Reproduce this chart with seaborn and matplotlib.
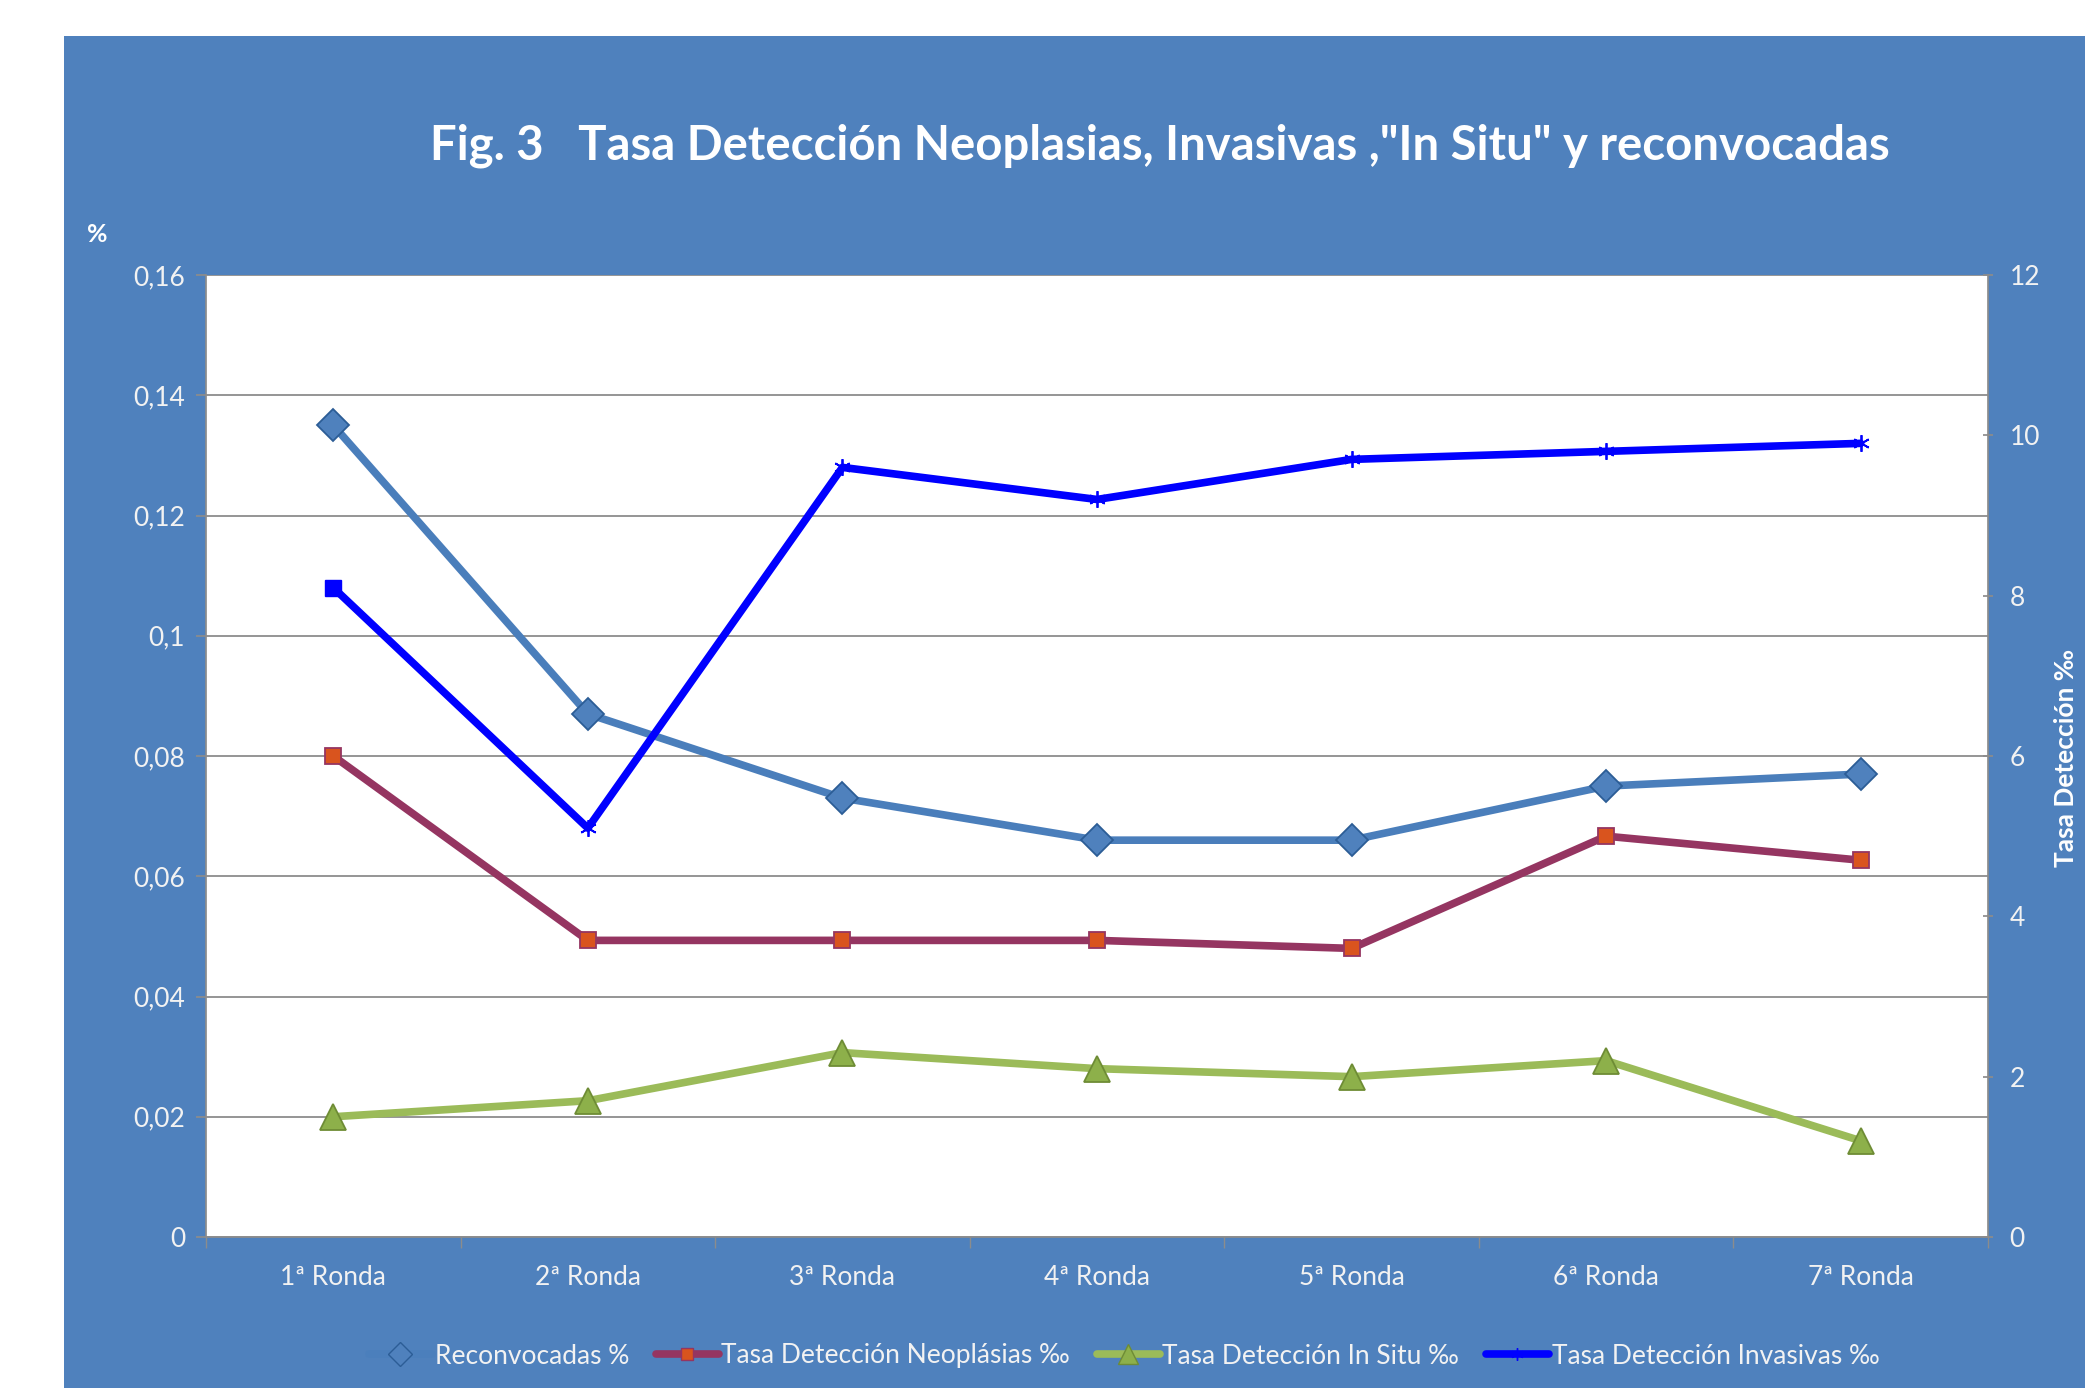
import numpy as np
import pandas as pd
import matplotlib.pyplot as plt
import seaborn as sns
from matplotlib.patches import Rectangle
from matplotlib.lines import Line2D


rondas = ["1ª Ronda", "2ª Ronda", "3ª Ronda", "4ª Ronda", "5ª Ronda", "6ª Ronda", "7ª Ronda"]
reconvocadas = [0.135, 0.087, 0.073, 0.066, 0.066, 0.075, 0.077]
neoplasias = [6.0, 3.7, 3.7, 3.7, 3.6, 5.0, 4.7]
in_situ = [1.5, 1.7, 2.3, 2.1, 2.0, 2.2, 1.2]
invasivas = [8.1, 5.1, 9.6, 9.2, 9.7, 9.8, 9.9]

left_ticks = [0, 0.02, 0.04, 0.06, 0.08, 0.1, 0.12, 0.14, 0.16]
left_labels = ["0", "0,02", "0,04", "0,06", "0,08", "0,1", "0,12", "0,14", "0,16"]
right_ticks = [0, 2, 4, 6, 8, 10, 12]

df = pd.DataFrame({"Ronda": rondas, "Reconvocadas": reconvocadas,
                   "Neoplasias": neoplasias, "InSitu": in_situ, "Invasivas": invasivas})

sns.set_theme(style="white")
plt.rcParams['font.family'] = ['Lato', 'DejaVu Sans']

panel = "#4F81BD"
grid_c = "#8C8C8C"
txt_c = "#F2F2F2"

# style of each series: (label, line colour, marker, size, face, edge)
styles = [
    ("Reconvocadas %", "#4A7EBB", "D", 16, "#4F81BD", "#2C5D96"),
    ("Tasa Detección Neoplásias ‰", "#953561", "s", 11, "#D9541E", "#953561"),
    ("Tasa Detección In Situ ‰", "#9BBB59", "^", 19, "#8DB04A", "#6E8C35"),
    ("Tasa Detección Invasivas ‰", "#0000FF", (6, 2, 0), 12, "#0000FF", "#0000FF"),
]

fig = plt.figure(figsize=(20.85, 13.88), dpi=100)
fig.patches.append(Rectangle((64 / 2085, 0), 1, 1 - 36 / 1388, transform=fig.transFigure,
                             facecolor=panel, edgecolor="none", zorder=-5))

ax = fig.add_axes([206 / 2085, 1 - 1237 / 1388, (1988 - 206) / 2085, (1237 - 275) / 1388])
ax.set_facecolor("white")
ax2 = ax.twinx()

x = np.arange(len(rondas))
cols = ["Reconvocadas", "Neoplasias", "InSitu", "Invasivas"]
axes_for = [ax, ax2, ax2, ax2]

for col, a, (lab, lc, mk, ms, fc, ec) in zip(cols, axes_for, styles):
    sns.lineplot(x=x, y=df[col], ax=a, color=lc, lw=5.5, marker=mk, ms=ms,
                 markerfacecolor=fc, markeredgecolor=ec, markeredgewidth=1.3,
                 legend=False, zorder=5)
# first point of the invasivas series drawn with a square in the original
ax2.plot(x[0], invasivas[0], marker="s", ms=11, color="#0000FF", zorder=6)

ax.set_xlim(-0.5, len(rondas) - 0.5)
ax.set_ylim(0, 0.16)
ax2.set_ylim(0, 12)

ax.set_yticks(left_ticks)
ax.set_yticklabels(left_labels)
ax2.set_yticks(right_ticks)
ax.set_xticks(x)
ax.set_xticklabels(rondas)
ax.set_xticks(np.arange(-0.5, len(rondas), 1), minor=True)

ax.yaxis.grid(True, color=grid_c, lw=1.3)
ax.xaxis.grid(False)
ax2.grid(False)

for a in (ax, ax2):
    for s in a.spines.values():
        s.set_visible(False)
    a.set_xlabel("")
    a.set_ylabel("")
ax.spines["left"].set_visible(True)
ax.spines["left"].set_color(grid_c)
ax.spines["bottom"].set_visible(True)
ax.spines["bottom"].set_color(grid_c)
ax2.spines["right"].set_visible(True)
ax2.spines["right"].set_color(grid_c)

ax.tick_params(axis="y", colors=txt_c, labelsize=19, length=7, color=grid_c, left=True, pad=8)
ax.tick_params(axis="x", which="major", colors=txt_c, labelsize=19, length=0, pad=20)
ax.tick_params(axis="x", which="minor", length=8, color=grid_c, bottom=True, width=1)
ax2.tick_params(axis="y", colors=txt_c, labelsize=19, length=7, color=grid_c, right=True,
                direction="inout", pad=12)

handles = [Line2D([], [], color=lc, lw=5.5, marker=mk, ms=ms * 0.75, markerfacecolor=fc,
                  markeredgecolor=ec) for lab, lc, mk, ms, fc, ec in styles]
handles[0].set_color("#4B7FBC")
leg = fig.legend(handles, [s[0] for s in styles], loc="center",
                 bbox_to_anchor=(1124 / 2085, 1 - 1356 / 1388),
                 ncol=4, frameon=False, fontsize=19, handlelength=2.4, columnspacing=1.0,
                 handletextpad=0.1)
for t in leg.get_texts():
    t.set_color(txt_c)

fig.text(1160 / 2085, 1 - 146 / 1388,
         'Fig. 3   Tasa Detección Neoplasias, Invasivas ,"In Situ" y reconvocadas',
         ha="center", va="center", color="white", fontsize=34, fontweight="bold")
fig.text(97 / 2085, 1 - 234 / 1388, "%", ha="center", va="center", color="white",
         fontsize=18, fontweight="bold")
fig.text(2066 / 2085, 1 - 758 / 1388, "Tasa Detección ‰", ha="center", va="center",
         color="white", fontsize=19, fontweight="bold", rotation=90)

plt.savefig("out.png", dpi=100, facecolor="white")
